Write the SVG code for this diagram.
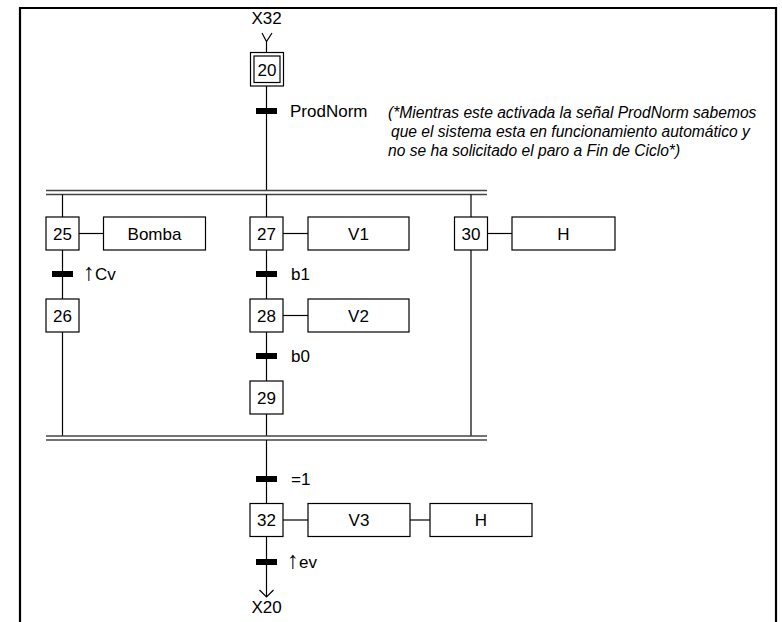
<svg xmlns="http://www.w3.org/2000/svg" width="782" height="622" viewBox="0 0 782 622">
<style>
.box{fill:#fff;stroke:#000;stroke-width:1.2}
.ln{stroke:#000;stroke-width:1.2;fill:none}
.bar{fill:#000}
.t{font-family:"Liberation Sans",Arial,sans-serif;font-size:17px;fill:#000}
.c{text-anchor:middle}
.ar{font-size:24px}
.note{font-family:"Liberation Sans",Arial,sans-serif;font-size:15.6px;font-style:italic;fill:#000}
.dbl{stroke:#444;stroke-width:1.6}
</style>
<rect width="782" height="622" fill="#fff"/>
<path d="M20 622 V8 H776 V622" fill="none" stroke="#000" stroke-width="2.2"/>
<g id="connectors">
  <polyline class="ln" points="262,33 266.5,41.5 272,33"/>
  <line class="ln" x1="266.5" y1="41.5" x2="266.5" y2="52"/>
  <line class="ln" x1="266.5" y1="86" x2="266.5" y2="190.5"/>
  <line class="dbl" x1="46" y1="190.5" x2="487" y2="190.5"/>
  <line class="dbl" x1="46" y1="194.5" x2="487" y2="194.5"/>
  <line class="ln" x1="62.5" y1="194.5" x2="62.5" y2="217"/>
  <line class="ln" x1="266.5" y1="194.5" x2="266.5" y2="217"/>
  <line class="ln" x1="471" y1="194.5" x2="471" y2="217"/>
  <line class="ln" x1="79" y1="233.5" x2="103.5" y2="233.5"/>
  <line class="ln" x1="283" y1="233.5" x2="308" y2="233.5"/>
  <line class="ln" x1="487.5" y1="233.5" x2="512" y2="233.5"/>
  <line class="ln" x1="283" y1="315.5" x2="308" y2="315.5"/>
  <line class="ln" x1="62.5" y1="250" x2="62.5" y2="299"/>
  <line class="ln" x1="62.5" y1="332" x2="62.5" y2="436"/>
  <line class="ln" x1="266.5" y1="250" x2="266.5" y2="299"/>
  <line class="ln" x1="266.5" y1="332" x2="266.5" y2="381"/>
  <line class="ln" x1="266.5" y1="414" x2="266.5" y2="436"/>
  <line class="ln" x1="471" y1="250" x2="471" y2="436"/>
  <line class="dbl" x1="46" y1="436" x2="487" y2="436" stroke="#000"/>
  <line class="dbl" x1="46" y1="440" x2="487" y2="440" stroke="#000"/>
  <line class="ln" x1="266.5" y1="440" x2="266.5" y2="503.5"/>
  <line class="ln" x1="283" y1="520" x2="308" y2="520"/>
  <line class="ln" x1="410" y1="520" x2="430" y2="520"/>
  <line class="ln" x1="266.5" y1="536.5" x2="266.5" y2="597"/>
  <polyline class="ln" points="259.5,590 266.5,597 273.5,590"/>
</g>
<g id="X32"><text class="t c" x="266.5" y="24">X32</text></g>
<g id="step20">
  <rect class="box" x="250.5" y="52.5" width="33" height="33.5"/>
  <rect class="box" x="254" y="56" width="26" height="26.5"/>
  <text class="t c" x="267" y="75.5">20</text>
</g>
<g id="tProdNorm">
  <rect class="bar" x="256" y="108" width="21" height="6"/>
  <text class="t" x="290" y="117">ProdNorm</text>
</g>
<g id="note">
  <text class="note" x="388" y="118">(*Mientras este activada la señal ProdNorm sabemos</text>
  <text class="note" x="391" y="137">que el sistema esta en funcionamiento automático y</text>
  <text class="note" x="388" y="156">no se ha solicitado el paro a Fin de Ciclo*)</text>
</g>
<g id="step25">
  <rect class="box" x="46" y="217" width="33" height="33"/>
  <text class="t c" x="62.5" y="239.5">25</text>
</g>
<g id="aBomba">
  <rect class="box" x="103.5" y="217" width="102" height="33"/>
  <text class="t c" x="154.5" y="239.5">Bomba</text>
</g>
<g id="tCv">
  <rect class="bar" x="52" y="271" width="21" height="6"/>
  <text class="t" x="83" y="280"><tspan class="ar">↑</tspan>Cv</text>
</g>
<g id="step26">
  <rect class="box" x="46" y="299" width="33" height="33"/>
  <text class="t c" x="62.5" y="321.5">26</text>
</g>
<g id="step27">
  <rect class="box" x="250" y="217" width="33" height="33"/>
  <text class="t c" x="266.5" y="239.5">27</text>
</g>
<g id="aV1">
  <rect class="box" x="308" y="217" width="101" height="33"/>
  <text class="t c" x="358.5" y="239.5">V1</text>
</g>
<g id="tb1">
  <rect class="bar" x="256" y="271" width="21" height="6"/>
  <text class="t" x="291" y="280">b1</text>
</g>
<g id="step28">
  <rect class="box" x="250" y="299" width="33" height="33"/>
  <text class="t c" x="266.5" y="321.5">28</text>
</g>
<g id="aV2">
  <rect class="box" x="308" y="299" width="101" height="33"/>
  <text class="t c" x="358.5" y="321.5">V2</text>
</g>
<g id="tb0">
  <rect class="bar" x="256" y="353" width="21" height="6"/>
  <text class="t" x="291" y="362">b0</text>
</g>
<g id="step29">
  <rect class="box" x="250" y="381" width="33" height="33"/>
  <text class="t c" x="266.5" y="403.5">29</text>
</g>
<g id="step30">
  <rect class="box" x="454.5" y="217" width="33" height="33"/>
  <text class="t c" x="471" y="239.5">30</text>
</g>
<g id="aH30">
  <rect class="box" x="512" y="217" width="103" height="33"/>
  <text class="t c" x="563.5" y="239.5">H</text>
</g>
<g id="t1">
  <rect class="bar" x="256" y="476" width="21" height="6"/>
  <text class="t" x="291" y="485">=1</text>
</g>
<g id="step32">
  <rect class="box" x="250" y="503.5" width="33" height="33"/>
  <text class="t c" x="266.5" y="526">32</text>
</g>
<g id="aV3">
  <rect class="box" x="308" y="503.5" width="102" height="33"/>
  <text class="t c" x="359" y="526">V3</text>
</g>
<g id="aH32">
  <rect class="box" x="430" y="503.5" width="102" height="33"/>
  <text class="t c" x="481" y="526">H</text>
</g>
<g id="tev">
  <rect class="bar" x="256" y="559" width="21" height="6"/>
  <text class="t" x="287" y="568"><tspan class="ar">↑</tspan>ev</text>
</g>
<g id="X20"><text class="t c" x="266.5" y="613">X20</text></g>
</svg>
